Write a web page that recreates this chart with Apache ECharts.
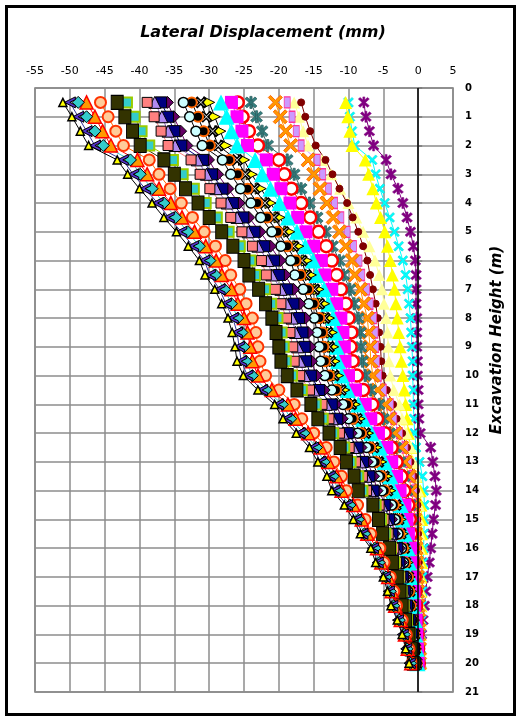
<!DOCTYPE html>
<html><head><meta charset="utf-8">
<script src="https://cdn.jsdelivr.net/npm/echarts/dist/echarts.min.js"></script>
<style>html,body{margin:0;padding:0;background:#fff}#c{width:519px;height:721px}</style>
</head><body><div id="c"></div>
<script>
// Depth (m) of each reading
const depths = [0.5,1,1.5,2,2.5,3,3.5,4,4.5,5,5.5,6,6.5,7,7.5,8,8.5,9,9.5,10,10.5,11,11.5,12,12.5,13,13.5,14,14.5,15,15.5,16,16.5,17,17.5,18,18.5,19,19.5,20];
const xTicks = [-55,-50,-45,-40,-35,-30,-25,-20,-15,-10,-5,0,5];
const yTicks = [0,1,2,3,4,5,6,7,8,9,10,11,12,13,14,15,16,17,18,19,20,21];

// Lateral displacement (mm) of each reading, left (largest) to right (smallest)
const s01 = [-51.0,-49.7,-48.5,-47.3,-43.2,-41.7,-40.0,-38.2,-36.5,-34.7,-33.0,-31.4,-30.6,-29.2,-28.2,-27.3,-26.7,-26.3,-26.0,-25.1,-23.0,-20.6,-19.4,-17.5,-15.6,-14.4,-13.1,-12.4,-10.6,-9.3,-8.3,-6.8,-6.1,-5.0,-4.4,-3.9,-3.0,-2.3,-1.8,-1.3];
const s02 = [-50.0,-48.8,-47.6,-46.4,-42.4,-40.9,-39.2,-37.4,-35.8,-34.0,-32.3,-30.7,-29.9,-28.5,-27.6,-26.6,-26.0,-25.7,-25.4,-24.5,-22.4,-20.1,-18.9,-17.0,-15.1,-14.0,-12.7,-12.0,-10.2,-8.9,-8.0,-6.5,-5.8,-4.8,-4.2,-3.7,-2.9,-2.2,-1.7,-1.2];
const s03 = [-48.8,-47.6,-46.4,-45.2,-41.3,-39.9,-38.2,-36.5,-34.8,-33.1,-31.4,-29.9,-29.1,-27.8,-26.8,-25.9,-25.3,-25.0,-24.7,-23.8,-21.8,-19.5,-18.3,-16.4,-14.6,-13.5,-12.2,-11.5,-9.8,-8.6,-7.7,-6.2,-5.6,-4.6,-4.0,-3.5,-2.7,-2.0,-1.6,-1.1];
const s04 = [-47.6,-46.4,-45.3,-44.1,-40.3,-38.9,-37.2,-35.5,-33.9,-32.1,-30.5,-29.0,-28.2,-26.8,-25.9,-25.0,-24.5,-24.1,-23.8,-23.0,-21.0,-18.7,-17.6,-15.8,-14.0,-12.9,-11.7,-11.0,-9.3,-8.1,-7.3,-5.9,-5.3,-4.3,-3.8,-3.3,-2.5,-1.9,-1.5,-1.0];
const s05 = [-45.6,-44.5,-43.4,-42.3,-38.6,-37.2,-35.6,-34.0,-32.4,-30.7,-29.1,-27.7,-26.9,-25.6,-24.7,-23.8,-23.3,-23.0,-22.7,-21.9,-20.0,-17.8,-16.7,-15.0,-13.2,-12.1,-11.0,-10.3,-8.7,-7.6,-6.8,-5.5,-4.9,-4.0,-3.5,-3.1,-2.3,-1.7,-1.3,-0.9];
const s06 = [-43.2,-42.1,-41.0,-39.9,-36.5,-35.0,-33.4,-31.6,-30.0,-28.2,-26.6,-25.0,-24.3,-22.9,-21.9,-21.0,-20.4,-20.0,-19.7,-18.8,-17.4,-15.4,-14.4,-12.8,-11.2,-10.3,-9.2,-8.6,-6.5,-5.7,-5.1,-4.1,-3.7,-3.0,-2.6,-2.3,-1.8,-1.3,-1.0,-0.7];
const s07 = [-41.8,-40.7,-39.7,-38.6,-35.2,-33.8,-32.2,-30.5,-28.9,-27.2,-25.6,-24.1,-23.4,-22.0,-21.1,-20.2,-19.6,-19.3,-19.0,-18.1,-16.7,-14.7,-13.7,-12.2,-10.6,-9.7,-8.6,-8.0,-6.1,-5.3,-4.7,-3.9,-3.4,-2.8,-2.4,-2.1,-1.6,-1.2,-0.9,-0.6];
const s08 = [-38.9,-37.9,-36.9,-35.9,-32.6,-31.3,-29.9,-28.3,-26.9,-25.3,-23.8,-22.5,-21.8,-20.5,-19.7,-18.9,-18.4,-18.0,-17.8,-17.0,-15.6,-13.8,-12.8,-11.3,-9.9,-9.0,-8.0,-7.4,-5.6,-4.9,-4.3,-3.5,-3.1,-2.5,-2.2,-1.9,-1.4,-1.1,-0.8,-0.5];
const s09 = [-37.8,-36.8,-35.9,-34.9,-31.7,-30.4,-29.0,-27.4,-26.0,-24.4,-23.0,-21.6,-21.0,-19.7,-18.9,-18.1,-17.6,-17.3,-17.0,-16.3,-15.0,-13.2,-12.3,-10.8,-9.3,-8.4,-7.5,-6.9,-5.2,-4.5,-4.0,-3.2,-2.9,-2.3,-2.0,-1.7,-1.3,-0.9,-0.7,-0.4];
const s10 = [-36.9,-35.9,-35.0,-34.0,-30.9,-29.6,-28.1,-26.6,-25.1,-23.5,-22.1,-20.7,-20.0,-18.8,-17.9,-17.1,-16.6,-16.3,-16.1,-15.4,-14.2,-12.4,-11.6,-10.1,-8.7,-7.9,-7.0,-6.4,-4.8,-4.2,-3.7,-3.0,-2.7,-2.2,-1.9,-1.6,-1.2,-0.9,-0.6,-0.4];
const s11 = [-36.0,-35.1,-34.1,-33.2,-30.1,-28.8,-27.3,-25.7,-24.3,-22.7,-21.2,-19.8,-19.1,-17.9,-17.0,-16.2,-15.8,-15.5,-15.3,-14.6,-13.5,-11.8,-10.9,-9.6,-8.2,-7.3,-6.4,-5.9,-4.4,-3.8,-3.4,-2.7,-2.4,-1.9,-1.7,-1.5,-1.1,-0.7,-0.5,-0.3];
const s12 = [-33.7,-32.8,-31.9,-31.0,-28.1,-26.9,-25.5,-24.0,-22.6,-21.0,-19.7,-18.3,-17.7,-16.5,-15.7,-14.9,-14.5,-14.2,-14.0,-13.4,-12.4,-10.8,-10.0,-8.7,-7.4,-6.6,-5.7,-5.2,-3.8,-3.3,-2.9,-2.4,-2.1,-1.7,-1.5,-1.3,-0.9,-0.7,-0.5,-0.3];
const s13 = [-32.5,-31.6,-30.8,-29.9,-27.1,-25.9,-24.5,-23.1,-21.7,-20.2,-18.8,-17.6,-16.9,-15.8,-15.0,-14.2,-13.8,-13.6,-13.4,-12.8,-11.8,-10.2,-9.4,-8.2,-6.9,-6.1,-5.3,-4.8,-3.5,-3.0,-2.7,-2.2,-1.9,-1.5,-1.3,-1.1,-0.8,-0.6,-0.4,-0.2];
const s14 = [-31.2,-30.4,-29.5,-28.7,-26.0,-24.8,-23.5,-22.0,-20.7,-19.3,-17.9,-16.7,-16.1,-14.9,-14.2,-13.4,-13.0,-12.8,-12.6,-12.1,-11.1,-9.6,-8.8,-7.6,-6.4,-5.7,-4.9,-4.4,-3.2,-2.8,-2.5,-2.0,-1.8,-1.4,-1.2,-1.0,-0.8,-0.5,-0.4,-0.2];
const s15 = [-30.0,-29.2,-28.4,-27.6,-25.0,-23.9,-22.6,-21.2,-19.9,-18.5,-17.2,-16.0,-15.4,-14.3,-13.5,-12.8,-12.4,-12.2,-12.0,-11.5,-10.6,-9.1,-8.4,-7.2,-6.0,-5.3,-4.5,-4.0,-2.9,-2.5,-2.2,-1.8,-1.5,-1.2,-1.0,-0.9,-0.6,-0.4,-0.3,-0.1];
const s16 = [-28.3,-27.5,-26.8,-26.0,-23.4,-22.4,-21.2,-19.9,-18.7,-17.4,-16.2,-15.1,-14.6,-13.5,-12.9,-12.2,-11.9,-11.7,-11.5,-11.0,-10.1,-8.6,-7.9,-6.7,-5.5,-4.8,-4.0,-3.5,-2.5,-2.2,-1.9,-1.5,-1.3,-1.1,-0.9,-0.8,-0.5,-0.4,-0.2,-0.1];
const s17 = [-26.8,-26.0,-25.3,-24.5,-21.8,-20.8,-19.7,-18.4,-17.3,-16.1,-15.0,-13.9,-13.4,-12.4,-11.7,-11.1,-10.8,-10.6,-10.5,-10.0,-9.0,-7.6,-6.8,-5.7,-4.5,-3.8,-3.1,-2.6,-1.9,-1.6,-1.4,-1.1,-1.0,-0.8,-0.6,-0.5,-0.3,-0.2,-0.1,0.0];
const s18 = [-25.9,-25.2,-24.3,-23.0,-20.0,-19.2,-18.2,-16.8,-15.5,-14.3,-13.2,-12.4,-11.7,-11.1,-10.4,-10.0,-9.6,-9.7,-9.4,-8.8,-7.9,-6.6,-5.9,-4.8,-3.8,-3.1,-2.4,-2.0,-1.4,-1.2,-1.0,-0.8,-0.7,-0.5,-0.4,-0.3,-0.2,-0.1,0.0,0.1];
const s19 = [-24.0,-23.2,-22.4,-21.6,-18.8,-17.8,-16.8,-15.6,-14.5,-13.3,-12.3,-11.3,-10.7,-9.8,-9.2,-8.6,-8.3,-8.2,-8.0,-7.6,-6.8,-5.6,-5.0,-4.1,-3.2,-2.6,-2.0,-1.6,-1.1,-0.9,-0.8,-0.6,-0.5,-0.4,-0.3,-0.2,-0.1,0.0,0.0,0.1];
const s20 = [-20.5,-19.8,-19.0,-18.3,-15.8,-15.0,-14.1,-13.1,-12.2,-11.3,-10.4,-9.5,-9.1,-8.3,-7.8,-7.3,-7.1,-6.9,-6.8,-6.5,-5.8,-4.7,-4.2,-3.3,-2.4,-1.9,-1.3,-1.0,-0.6,-0.5,-0.4,-0.3,-0.2,-0.1,-0.1,0.0,0.1,0.1,0.2,0.2];
const s21 = [-18.8,-18.1,-17.5,-16.8,-14.5,-13.7,-12.9,-12.0,-11.1,-10.2,-9.3,-8.5,-8.1,-7.4,-6.9,-6.4,-6.2,-6.1,-6.0,-5.7,-5.0,-4.0,-3.5,-2.7,-1.9,-1.4,-0.9,-0.6,-0.3,-0.2,-0.2,-0.1,-0.1,0.0,0.0,0.1,0.1,0.1,0.2,0.2];
const s22 = [-16.8,-16.2,-15.5,-14.7,-13.3,-12.3,-11.3,-10.2,-9.4,-8.6,-7.9,-7.3,-6.9,-6.5,-6.1,-5.8,-5.6,-5.4,-5.3,-5.1,-4.5,-3.6,-3.1,-2.3,-1.6,-1.1,-0.6,-0.3,-0.1,-0.1,0.0,0.0,0.1,0.1,0.1,0.1,0.2,0.2,0.2,0.2];
const s23 = [-17.8,-17.1,-16.5,-15.8,-13.8,-12.5,-11.2,-10.0,-8.9,-7.9,-7.0,-6.2,-5.6,-5.2,-4.9,-4.6,-4.4,-4.3,-4.2,-4.0,-3.5,-2.7,-2.3,-1.7,-1.1,-0.7,-0.3,0.0,0.1,0.1,0.2,0.2,0.2,0.2,0.3,0.3,0.3,0.3,0.3,0.3];
const s24 = [-10.4,-10.1,-9.8,-9.5,-7.6,-7.1,-6.5,-6.0,-5.4,-4.8,-4.4,-4.0,-3.7,-3.4,-3.2,-3.0,-2.8,-2.6,-2.4,-2.2,-2.0,-1.8,-1.6,-1.4,-1.1,-0.8,-0.3,0.3,0.4,0.5,0.5,0.5,0.5,0.4,0.4,0.4,0.3,0.3,0.3,0.3];
const s25 = [-10.0,-9.8,-9.5,-9.1,-6.6,-6.1,-5.5,-4.8,-4.1,-3.4,-2.8,-2.2,-1.8,-1.5,-1.3,-1.1,-1.0,-0.9,-0.8,-0.8,-0.7,-0.7,-0.6,-0.5,-0.3,0.2,0.6,0.8,0.9,0.9,0.8,0.8,0.7,0.6,0.6,0.5,0.5,0.4,0.4,0.4];
const s26 = [-7.8,-7.5,-7.0,-6.4,-4.6,-3.9,-2.9,-2.2,-1.6,-1.1,-0.7,-0.4,-0.3,-0.3,-0.3,-0.2,-0.2,-0.2,-0.1,-0.1,0.0,0.0,0.1,0.3,1.8,2.1,2.4,2.6,2.5,2.2,2.0,1.8,1.6,1.3,1.1,0.9,0.7,0.5,0.3,0.2];

const titleText = 'Lateral Displacement (mm)';
const yName = 'Excavation Height (m)';

// marker shapes
const P_X = 'path://M0,1.5L1.5,0L5,3.5L8.5,0L10,1.5L6.5,5L10,8.5L8.5,10L5,6.5L1.5,10L0,8.5L3.5,5Z';
const P_STAR = 'path://M0.5,2L2,0.5L5,3.6L8,0.5L9.5,2L6.4,5L9.5,8L8,9.5L5,6.4L2,9.5L0.5,8L3.6,5Z M4.2,0H5.8V10H4.2Z';
const P_CHEV = 'path://M10,0L0,5L10,10L10,7.5L5,5L10,2.5Z';
const P_RTRI = 'path://M0,0L10,5L0,10Z';

const looks = [
  {d:s01, sym:'triangle', size:8,  fill:'#FFFF00', bc:'#000000', bw:1.5, lc:'#000000'},
  {d:s02, sym:P_CHEV,     size:11, fill:'#5533CC', bc:'#000000', bw:1,   lc:'#333399'},
  {d:s03, sym:'diamond',  size:12, fill:'#33CCCC', bc:'#000000', bw:1,   lc:'#33CCCC'},
  {d:s04, sym:'triangle', size:13, fill:'#FF9900', bc:'#FF0000', bw:1.5, lc:'#FF0000'},
  {d:s05, sym:'circle',   size:11, fill:'#FFCC99', bc:'#FF3300', bw:2,   lc:'#FF6600'},
  {d:s06, sym:'rect',     size:[12,14], fill:'#333300', bc:'#000000', bw:1, lc:'#333300'},
  {d:s07, sym:'rect',     size:10, fill:'#33CCCC', bc:'#99CC00', bw:2,   lc:'#99CC00'},
  {d:s08, sym:'rect',     size:10, fill:'#FF8080', bc:'#000000', bw:1,   lc:'#FF8080'},
  {d:s09, sym:'triangle', size:12, fill:'#B08AF0', bc:'#000000', bw:1,   lc:'#9966CC'},
  {d:s10, sym:'rect',     size:11, fill:'#000080', bc:'#000000', bw:1,   lc:'#000080'},
  {d:s11, sym:'diamond',  size:12, fill:'#660066', bc:'#000000', bw:1,   lc:'#660066'},
  {d:s12, sym:'circle',   size:10, fill:'#CCFFFF', bc:'#000000', bw:1.5, lc:'#000000'},
  {d:s13, sym:'circle',   size:10, fill:'#000000', bc:'#FF6600', bw:2,   lc:'#000000'},
  {d:s14, sym:P_X,        size:10, fill:'#FFFFFF', bc:'#000000', bw:1.5, lc:'#000000'},
  {d:s15, sym:P_RTRI,     size:11, fill:'#FFFF00', bc:'#000000', bw:1,   lc:'#000000'},
  {d:s16, sym:'triangle', size:16, fill:'#00FFFF', bc:'#00FFFF', bw:0,   lc:'#00FFFF'},
  {d:s17, sym:'rect',     size:13, fill:'#FF00FF', bc:'#FF00FF', bw:0,   lc:'#FF00FF'},
  {d:s18, sym:'circle',   size:12, fill:'#FFFFFF', bc:'#FF0000', bw:2.5, lc:'#FF0000'},
  {d:s19, sym:P_STAR,     size:12, fill:'#338080', bc:'#2F5F5F', bw:0.8, lc:'#336666'},
  {d:s20, sym:P_X,        size:14, fill:'#FF9900', bc:'#FF6600', bw:1,   lc:'#FF9900'},
  {d:s21, sym:'rect',     size:[6,11], fill:'#CC99FF', bc:'#FF3399', bw:1, lc:'#CC99FF'},
  {d:s22, sym:'circle',   size:7,  fill:'#800000', bc:'#800000', bw:1,   lc:'#800000'},
  {d:s23, sym:'triangle', size:12, fill:'#FFFF99', bc:'#FFFF99', bw:0,   lc:'#FFFF99'},
  {d:s24, sym:'triangle', size:13, fill:'#FFFF00', bc:'#FFFF00', bw:0,   lc:'#FFFF00'},
  {d:s25, sym:P_X,        size:10, fill:'#00FFFF', bc:'#00CCCC', bw:0.5, lc:'#00FFFF'},
  {d:s26, sym:P_STAR,     size:11, fill:'#800080', bc:'#800080', bw:0.5, lc:'#800080'}
];

const series = [];
for (let k = looks.length - 1; k >= 0; k--) {
  const L = looks[k];
  const s = {
    type:'line',
    data: depths.map((dp, i) => [L.d[i], dp]),
    symbol: L.sym,
    symbolSize: L.size,
    showSymbol: true,
    showAllSymbol: true,
    silent: true,
    itemStyle: {color: L.fill, borderColor: L.bc, borderWidth: L.bw, opacity: 1},
    lineStyle: {color: L.lc, width: 1},
    emphasis: {disabled: true}
  };
  if (k === looks.length - 1) {
    s.markLine = {silent:true, symbol:['none','none'], label:{show:false},
      lineStyle:{color:'#000000', width:1.5, type:'solid'}, data:[{xAxis:0}]};
  }
  series.push(s);
}

const chart = echarts.init(document.getElementById('c'), null, {renderer:'canvas'});
chart.setOption({
  animation:false,
  backgroundColor:'#ffffff',
  grid:{left:35, right:66, top:88, bottom:29, show:true, borderColor:'#7a7a7a', borderWidth:1.5, backgroundColor:'#ffffff'},
  xAxis:{type:'value', position:'top', min:xTicks[0], max:xTicks[xTicks.length-1], interval:5,
    axisLine:{show:false}, axisTick:{show:false},
    axisLabel:{margin:11, color:'#000', fontFamily:'DejaVu Sans', fontSize:11},
    splitLine:{show:true, lineStyle:{color:'#8c8c8c', width:1.5}}},
  yAxis:{type:'value', position:'right', inverse:true, min:yTicks[0], max:yTicks[yTicks.length-1], interval:1,
    axisLine:{show:false}, axisTick:{show:true, length:4, lineStyle:{color:'#7a7a7a', width:1.5}},
    axisLabel:{margin:12, color:'#000', fontFamily:'DejaVu Sans', fontWeight:'bold', fontSize:10},
    splitLine:{show:true, lineStyle:{color:'#8c8c8c', width:1.5}}},
  graphic:[
    {type:'text', x:263, y:33, z:100, style:{text:titleText, font:'italic bold 16px "DejaVu Sans"', fill:'#000',
      align:'center', verticalAlign:'middle', textAlign:'center', textVerticalAlign:'middle'}},
    {type:'text', x:497, y:340, rotation:Math.PI/2, z:100, style:{text:yName, font:'italic bold 15px "DejaVu Sans"', fill:'#000',
      align:'center', verticalAlign:'middle', textAlign:'center', textVerticalAlign:'middle'}},
    {type:'rect', z:100, shape:{x:6.5, y:6.5, width:508, height:708}, style:{fill:'none', stroke:'#000', lineWidth:3}}
  ],
  series: series
});
</script>
</body></html>
